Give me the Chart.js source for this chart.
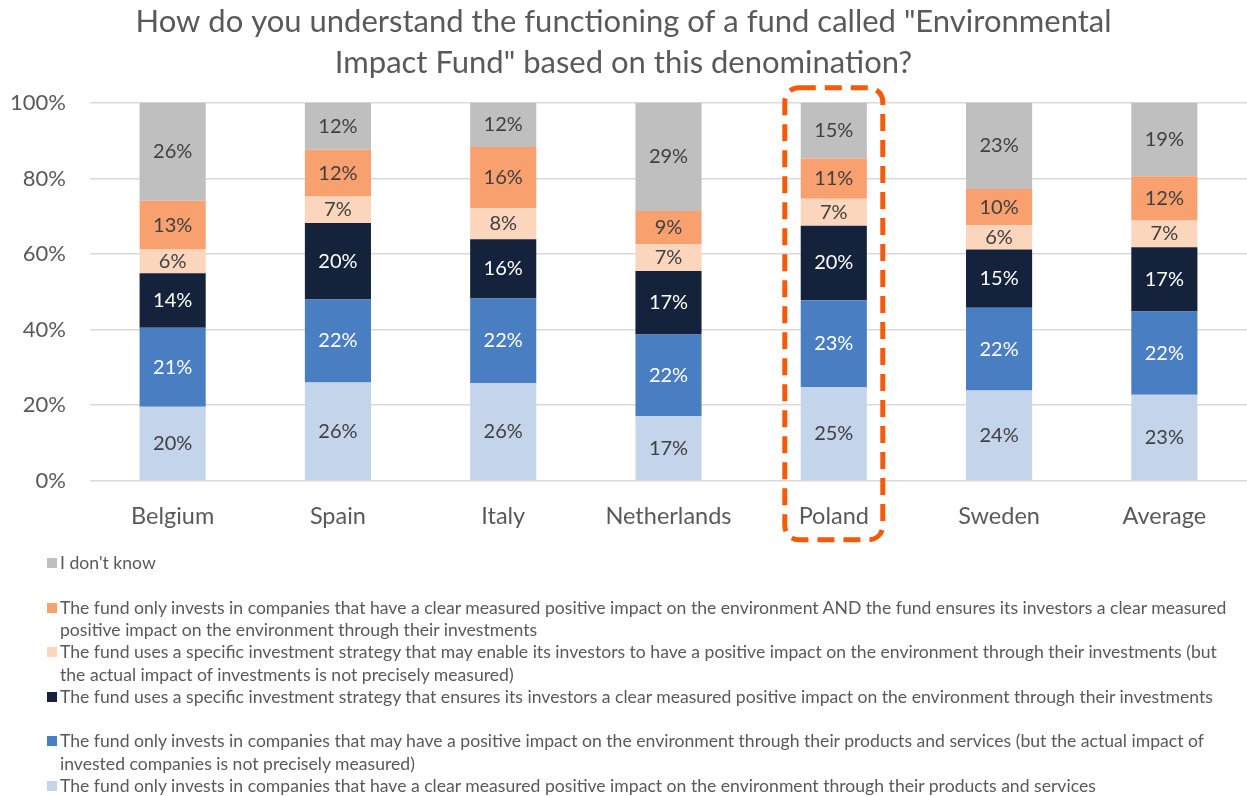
<!DOCTYPE html>
<html>
<head>
<meta charset="utf-8">
<script src="https://cdn.jsdelivr.net/npm/chart.js@4/dist/chart.umd.min.js"></script>
<style>
    body { margin: 0; background: #fff; font-family: Lato, "Liberation Sans", sans-serif; }
    #wrap { position: relative; width: 1247px; height: 796px; overflow: hidden; }
    #box { position: absolute; left: 0; top: 0; width: 1247px; height: 560px; }
    #leyenda { position: absolute; left: 0; top: 552px; width: 1247px; }
    .item { position: relative; height: 44.6px; }
    .item i { position: absolute; left: 47px; top: 6px; width: 10px; height: 10px; }
    .item span { position: absolute; left: 60px; top: 0; width: 1180px; font-size: 17.6px; line-height: 22.4px; color: #595959; }
</style>
</head>
<body>
<div id="wrap">
    <div id="box"><canvas id="grafica"></canvas></div>
    <div id="leyenda"></div>
</div>
<script>
const paises = ['Belgium', 'Spain', 'Italy', 'Netherlands', 'Poland', 'Sweden', 'Average']

// de abajo hacia arriba en cada barra
const medidoProductos = [19.6, 26.0, 25.9, 17.1, 24.8, 23.9, 22.8]
const posibleProductos = [20.9, 22.0, 22.3, 21.6, 23.0, 21.9, 22.0]
const estrategiaMedida = [14.4, 20.2, 15.7, 16.8, 19.7, 15.4, 17.0]
const estrategiaPosible = [6.3, 7.0, 8.2, 7.1, 7.1, 6.4, 7.1]
const medidoAmbos = [12.9, 12.4, 16.2, 8.8, 10.7, 9.6, 11.7]
const noSe = [25.9, 12.4, 11.7, 28.6, 14.7, 22.8, 19.4]

const yTicks = [0, 20, 40, 60, 80, 100]

const series = [
    { nombre: 'The fund only invests in companies that have a clear measured positive impact on the environment through their products and services', datos: medidoProductos, color: '#C3D4EB', texto: '#404040' },
    { nombre: 'The fund only invests in companies that may have a positive impact on the environment through their products and services (but the actual impact of invested companies is not precisely measured)', datos: posibleProductos, color: '#4A7EC3', texto: '#ffffff' },
    { nombre: 'The fund uses a specific investment strategy that ensures its investors a clear measured positive impact on the environment through their investments', datos: estrategiaMedida, color: '#14233B', texto: '#ffffff' },
    { nombre: 'The fund uses a specific investment strategy that may enable its investors to have a positive impact on the environment through their investments (but the actual impact of investments is not precisely measured)', datos: estrategiaPosible, color: '#FCD5BD', texto: '#404040' },
    { nombre: 'The fund only invests in companies that have a clear measured positive impact on the environment AND the fund ensures its investors a clear measured positive impact on the environment through their investments', datos: medidoAmbos, color: '#F9A06F', texto: '#404040' },
    { nombre: "I don't know", datos: noSe, color: '#BFBFBF', texto: '#404040' }
]

// leyenda en html, de arriba hacia abajo
const leyenda = document.getElementById('leyenda')
series.slice().reverse().forEach(s => {
    const div = document.createElement('div')
    div.className = 'item'
    const cuadro = document.createElement('i')
    cuadro.style.background = s.color
    const txt = document.createElement('span')
    txt.textContent = s.nombre
    div.appendChild(cuadro)
    div.appendChild(txt)
    leyenda.appendChild(div)
})

const etiquetas = {
    id: 'etiquetas',
    afterDatasetsDraw(chart) {
        const ctx = chart.ctx
        ctx.save()
        ctx.font = '20px Lato, "Liberation Sans", sans-serif'
        ctx.textAlign = 'center'
        ctx.textBaseline = 'middle'
        chart.data.datasets.forEach((ds, i) => {
            chart.getDatasetMeta(i).data.forEach((bar, j) => {
                ctx.fillStyle = series[i].texto
                ctx.fillText(Math.round(ds.data[j]) + '%', bar.x, (bar.y + bar.base) / 2)
            })
        })
        ctx.restore()
    }
}

// recuadro punteado alrededor de Poland
const resaltar = {
    id: 'resaltar',
    afterDraw(chart) {
        const ctx = chart.ctx
        const area = chart.chartArea
        const cx = chart.scales.x.getPixelForValue(paises.indexOf('Poland'))
        const x0 = cx - 49, x1 = cx + 49
        const y0 = area.top - 15, y1 = area.bottom + 59
        const r = 14
        ctx.save()
        ctx.strokeStyle = '#F55A0A'
        ctx.lineWidth = 5
        ctx.setLineDash([17, 9])
        ctx.beginPath()
        ctx.moveTo(x0 + r, y0)
        ctx.lineTo(x1 - r, y0)
        ctx.arcTo(x1, y0, x1, y0 + r, r)
        ctx.lineTo(x1, y1 - r)
        ctx.arcTo(x1, y1, x1 - r, y1, r)
        ctx.lineTo(x0 + r, y1)
        ctx.arcTo(x0, y1, x0, y1 - r, r)
        ctx.lineTo(x0, y0 + r)
        ctx.arcTo(x0, y0, x0 + r, y0, r)
        ctx.closePath()
        ctx.stroke()
        ctx.restore()
    }
}

const ctx = document.getElementById('grafica').getContext('2d')
const myChart = new Chart(ctx, {
    type: 'bar',
    data: {
        labels: paises,
        datasets: series.map(s => ({
            label: s.nombre,
            data: s.datos,
            backgroundColor: s.color,
            barPercentage: 0.4,
            categoryPercentage: 1
        }))
    },
    options: {
        responsive: true,
        maintainAspectRatio: false,
        animation: false,
        layout: {
            padding: { left: 0, right: 0, top: 0, bottom: 7 }
        },
        scales: {
            x: {
                stacked: true,
                grid: { display: false, drawTicks: false },
                border: { display: false },
                ticks: {
                    padding: 22,
                    color: '#595959',
                    font: { family: 'Lato, "Liberation Sans", sans-serif', size: 23.5 }
                }
            },
            y: {
                stacked: true,
                min: 0,
                max: 100,
                afterFit(scale) { scale.width = 90 },
                afterBuildTicks(scale) { scale.ticks = yTicks.map(v => ({ value: v })) },
                grid: { color: '#D9D9D9', lineWidth: 1.5, drawTicks: false },
                border: { display: false },
                ticks: {
                    padding: 24,
                    color: '#595959',
                    font: { family: 'Lato, "Liberation Sans", sans-serif', size: 22 },
                    callback: v => v + '%'
                }
            }
        },
        plugins: {
            legend: { display: false },
            tooltip: { enabled: false },
            title: {
                display: true,
                text: ['How do you understand the functioning of a fund called "Environmental', 'Impact Fund" based on this denomination?'],
                color: '#595959',
                font: { family: 'Lato, "Liberation Sans", sans-serif', size: 31, weight: 'normal', lineHeight: 1.32 },
                padding: { top: 2, bottom: 19 }
            }
        }
    },
    plugins: [etiquetas, resaltar]
})
</script>
</body>
</html>
